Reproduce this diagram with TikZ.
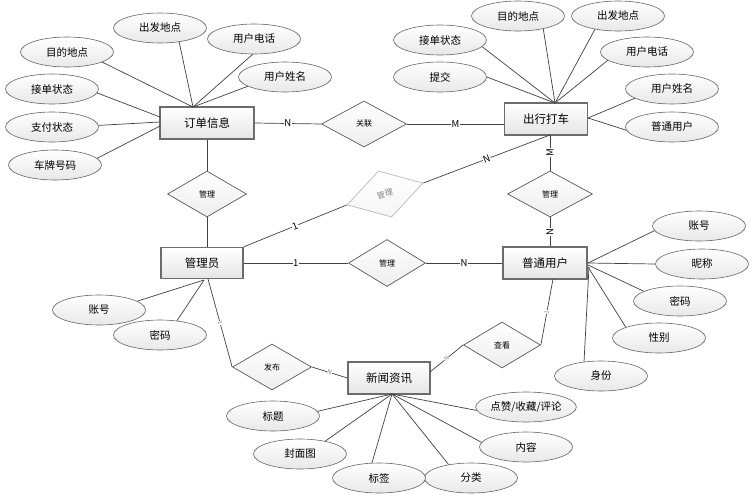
\documentclass[tikz,border=0pt]{standalone}
\usepackage{fontspec}
\setmainfont{Noto Sans CJK SC}
\usetikzlibrary{shapes.geometric,calc}
\begin{document}
\begin{tikzpicture}[x=1pt,y=-1pt,
  ent/.style={draw=gray!85!black, line width=1.2pt, rectangle, top color=white, bottom color=gray!20,
    minimum width=84pt, minimum height=32pt, inner sep=0pt, font=\fontsize{11.5}{13}\selectfont},
  attr/.style={draw=gray!80!black, line width=0.6pt, ellipse, top color=white, bottom color=gray!18,
    minimum width=93pt, minimum height=30pt, inner sep=0pt, font=\fontsize{10.5}{12}\selectfont},
  rel/.style={draw=black!65, line width=0.7pt, diamond, top color=white, bottom color=gray!14,
    minimum width=79pt, minimum height=46pt, inner sep=0pt, font=\fontsize{8}{9}\selectfont},
  link/.style={draw=black!75, line width=0.7pt},
  lbl/.style={fill=white, inner sep=0.6pt, font=\fontsize{9.5}{10}\selectfont},
  tinylbl/.style={fill=white, inner sep=0.4pt, font=\fontsize{6}{7}\selectfont, text=gray}
]
\useasboundingbox (0,0) rectangle (752,503);

% ---------- entities ----------
\node[ent, minimum width=94pt] (dd) at (207,123) {订单信息};
\node[ent, minimum width=83pt] (cx) at (546,119) {出行打车};
\node[ent, minimum width=82pt, minimum height=31pt] (gly) at (202,263) {管理员};
\node[ent] (pt) at (545,263) {普通用户};
\node[ent, minimum width=82pt] (xw) at (389,378) {新闻资讯};

% ---------- relations ----------
\node[rel, minimum width=85pt] (gl) at (364,124) {关联};
\node[rel] (r1) at (207,194) {管理};
\node[rel, minimum width=85pt] (r2) at (550,194) {管理};
\node[rel, minimum width=77pt, minimum height=47pt] (r3) at (387,263) {管理};
\node[rel, rotate=16, draw=gray!55, text=gray, bottom color=gray!8, minimum width=79pt, minimum height=48pt] (r4) at (385,194) {管理};
\node[rel] (fb) at (272,367) {发布};
\node[rel, minimum width=77pt] (ck) at (502,345) {查看};

% ---------- connection points ----------
\coordinate (ddT) at (193,107);
\coordinate (ddL1) at (160,117);
\coordinate (ddL2) at (160,122);
\coordinate (ddL3) at (160,126);
\coordinate (cxT) at (555,103);
\coordinate (cxR) at (588,118);
\coordinate (cxB) at (550,135);
\coordinate (glyB) at (204,280);
\coordinate (glyB2) at (208,279);
\coordinate (xwB) at (392,394);
\coordinate (xwR) at (430,372);
\coordinate (ptB) at (553,279);
\coordinate (ptR1) at (588,263);
\coordinate (ptR2) at (588,265);
\coordinate (ptR3) at (588,267);
\coordinate (ptR4) at (589,267);

% ---------- relationship links ----------
\draw[link] (dd.east) -- node[lbl]{N} (gl.west);
\draw[link] (gl.east) -- node[lbl]{M} (gl.east -| cx.west);
\draw[link] (dd.south) -- (r1.north);
\draw[link] (r1.south) -- (r1.south |- gly.north);
\draw[link] (gly.north east) -- node[lbl, sloped]{1} (r4.west);
\draw[link] (r4.east) -- node[lbl, sloped]{N} (cxB);
\draw[link] (cxB) -- node[lbl, rotate=90]{M} (r2.north);
\draw[link] (r2.south) -- node[lbl, rotate=90]{N} (r2.south |- pt.north);
\draw[link] (gly.east) -- node[lbl]{1} (r3.west);
\draw[link] (r3.east) -- node[lbl]{N} (pt.west);
\draw[link] (glyB2) -- node[tinylbl, sloped]{1} (fb.west);
\draw[link] (fb.east) -- node[tinylbl, sloped]{N} (xw.west);
\draw[link] (xwR) -- node[tinylbl, sloped]{N} (ck.west);
\draw[link] (ck.east) -- node[tinylbl, sloped]{1} (ptB);

% ---------- attributes of 订单信息 ----------
\node[attr] (a1) at (67,52) {目的地点};
\node[attr] (a2) at (160,28) {出发地点};
\node[attr] (a3) at (254,39) {用户电话};
\node[attr] (a4) at (285,77) {用户姓名};
\node[attr] (a5) at (52,89) {接单状态};
\node[attr] (a6) at (52,127) {支付状态};
\node[attr] (a7) at (55,165) {车牌号码};
\draw[link] (a1.-16) -- (ddT);
\draw[link] (a2.-36) -- (ddT);
\draw[link] (a3.-95) -- (ddT);
\draw[link] (a4.194) -- (ddT);
\draw[link] (a5.-5) -- (ddL1);
\draw[link] (a6.2) -- (ddL2);
\draw[link] (a7.9) -- (ddL3);

% ---------- attributes of 出行打车 ----------
\node[attr] (b1) at (518,16) {目的地点};
\node[attr] (b2) at (618,16) {出发地点};
\node[attr] (b3) at (440,40) {接单状态};
\node[attr] (b4) at (440,77) {提交};
\node[attr] (b5) at (647,52) {用户电话};
\node[attr] (b6) at (672,89) {用户姓名};
\node[attr] (b7) at (672,127) {普通用户};
\draw[link] (b1.-27) -- (cxT);
\draw[link] (b2.210) -- (cxT);
\draw[link] (b3.-9) -- (cxT);
\draw[link] (b4.0) -- (cxT);
\draw[link] (b5.192) -- (cxT);
\draw[link] (b6.194) -- (cxR);
\draw[link] (b7.184) -- (cxR);

% ---------- attributes of 管理员 ----------
\node[attr] (c1) at (99,310) {账号};
\node[attr] (c2) at (160,335) {密码};
\draw[link] (c1.13) -- (glyB);
\draw[link] (c2.40) -- (glyB);

% ---------- attributes of 新闻资讯 ----------
\node[attr] (d1) at (273,416) {标题};
\node[attr] (d2) at (300,454) {封面图};
\node[attr] (d4) at (471,478) {分类};
\node[attr] (d3) at (379,478) {标签};
\node[attr] (d5) at (526,447) {内容};
\node[attr] (d6) at (526,407) {点赞/收藏/评论};
\draw[link] (d1.6) -- (xwB);
\draw[link] (d2.27) -- (xwB);
\draw[link] (d3.115) -- (xwB);
\draw[link] (d4.149) -- (xwB);
\draw[link] (d5.174) -- (xwB);
\draw[link] (d6.184) -- (xwB);

% ---------- attributes of 普通用户 ----------
\node[attr] (e1) at (699,226) {账号};
\node[attr] (e2) at (702,264) {昵称};
\node[attr] (e3) at (680,301) {密码};
\node[attr] (e4) at (659,338) {性别};
\node[attr] (e5) at (601,376) {身份};
\draw[link] (e1.186) -- (ptR1);
\draw[link] (e2.180) -- (ptR1);
\draw[link] (e3.165) -- (ptR2);
\draw[link] (e4.162) -- (ptR3);
\draw[link] (e5.140) -- (ptR4);
\end{tikzpicture}
\end{document}
